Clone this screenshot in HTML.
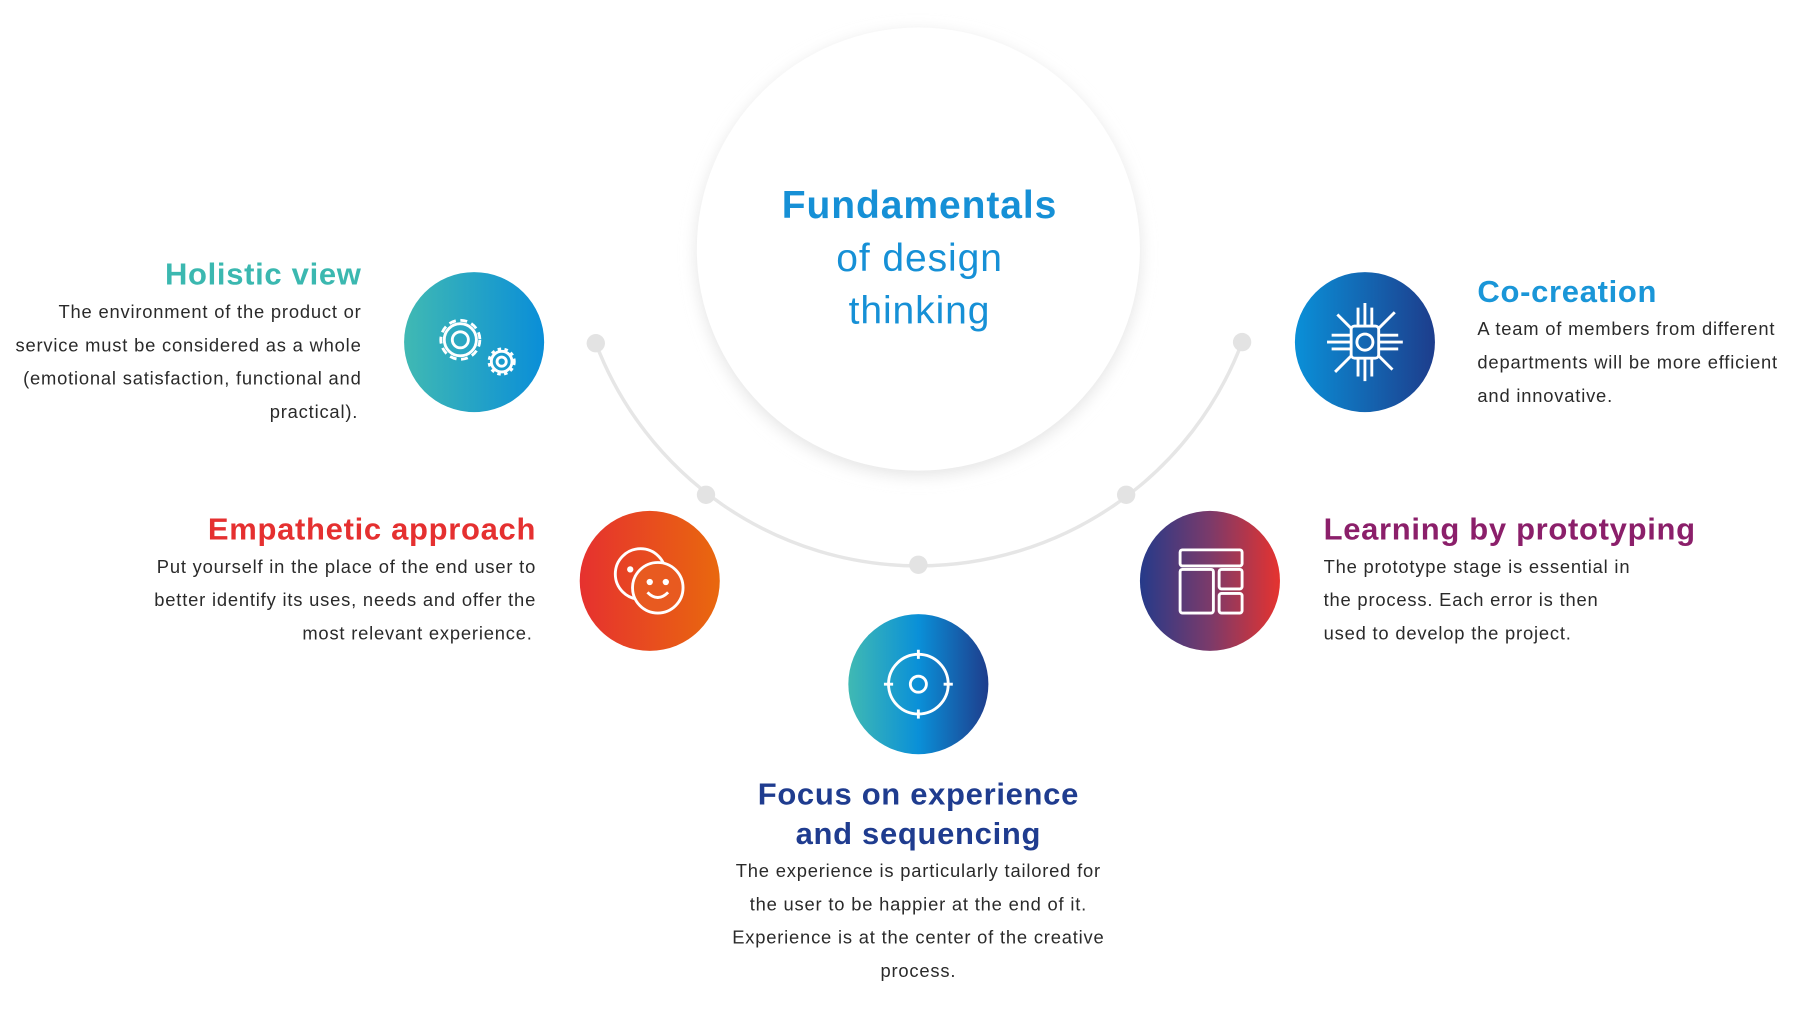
<!DOCTYPE html>
<html><head><meta charset="utf-8"><style>
html,body{margin:0;padding:0;background:#fff;overflow:hidden}
#w{width:1568px;height:880px;transform:scale(1.14796);transform-origin:0 0;position:relative}
svg text{font-family:"Liberation Sans",sans-serif}
.b{font-size:16px;fill:#2a2a2a;letter-spacing:0.7px}
.h{font-size:27px;font-weight:bold;letter-spacing:0.6px}
</style></head><body><div id="w">
<svg width="1568" height="880" viewBox="0 0 1568 880" xmlns="http://www.w3.org/2000/svg">
<defs>
<filter id="sh" x="-20%" y="-20%" width="140%" height="140%"><feGaussianBlur stdDeviation="7"/></filter>
<linearGradient id="g1" x1="0" x2="1"><stop offset="0" stop-color="#40b9b3"/><stop offset="1" stop-color="#0a8ed8"/></linearGradient>
<linearGradient id="g2" x1="0" x2="1"><stop offset="0" stop-color="#0a90d8"/><stop offset="1" stop-color="#1d3d8c"/></linearGradient>
<linearGradient id="g3" x1="0" x2="1"><stop offset="0" stop-color="#e6312f"/><stop offset="1" stop-color="#e9680e"/></linearGradient>
<linearGradient id="g4" x1="0" x2="1"><stop offset="0" stop-color="#253a8a"/><stop offset="0.5" stop-color="#7b3a6a"/><stop offset="1" stop-color="#e6332f"/></linearGradient>
<linearGradient id="g5" x1="0" x2="1"><stop offset="0" stop-color="#40b9b3"/><stop offset="0.5" stop-color="#0a90d8"/><stop offset="1" stop-color="#1e3d8c"/></linearGradient>
</defs>
<circle cx="800" cy="221" r="193" fill="#e4e4e4" filter="url(#sh)"/>
<circle cx="800" cy="217" r="193" fill="#fff"/>
<path d="M519 299 A301 301 0 0 0 1082 298" fill="none" stroke="#e6e6e6" stroke-width="3"/>
<g fill="#e3e3e3"><circle cx="519" cy="299" r="8"/><circle cx="615" cy="431" r="8"/><circle cx="800" cy="492" r="8"/><circle cx="981" cy="431" r="8"/><circle cx="1082" cy="298" r="8"/></g>
<text x="801" y="190" text-anchor="middle" font-size="34" font-weight="bold" fill="#1690d6" letter-spacing="0.8">Fundamentals</text>
<text x="801" y="236" text-anchor="middle" font-size="34" fill="#1690d6" letter-spacing="0.8">of design</text>
<text x="801" y="282" text-anchor="middle" font-size="34" fill="#1690d6" letter-spacing="0.8">thinking</text>

<circle cx="413" cy="298" r="61" fill="url(#g1)"/>
<circle cx="1189" cy="298" r="61" fill="url(#g2)"/>
<circle cx="566" cy="506" r="61" fill="url(#g3)"/>
<circle cx="1054" cy="506" r="61" fill="url(#g4)"/>
<circle cx="800" cy="596" r="61" fill="url(#g5)"/>

<!-- icons -->
<g fill="none" stroke="#fff" stroke-width="2.5">
<circle cx="401" cy="296" r="17" stroke-dasharray="6 4"/><circle cx="401" cy="296" r="14"/><circle cx="401" cy="296" r="7"/>
<circle cx="437" cy="315" r="9"/><circle cx="437" cy="315" r="4"/><circle cx="437" cy="315" r="11" stroke-dasharray="3 3"/>
<rect x="1177" y="284" width="24" height="28" rx="3"/><circle cx="1189" cy="298" r="7"/>
<path d="M1160 292h17M1156 298h21M1160 304h17M1201 292h17M1201 298h21M1201 304h17M1183 284v-16M1189 284v-20M1195 284v-16M1183 312v16M1189 312v20M1195 312v16M1201 286l14-14M1177 310l-14 14M1177 286l-12-12M1201 310l12 12"/>
<circle cx="558" cy="500" r="22"/><circle cx="573" cy="512" r="22" fill="#e85a20"/>
<path d="M564 516 q9 9 18 0"/><circle cx="566" cy="507" r="1.5" fill="#fff"/><circle cx="580" cy="507" r="1.5" fill="#fff"/><circle cx="549" cy="496" r="1.5" fill="#fff"/>
<rect x="1028" y="479" width="54" height="14" rx="2"/><rect x="1028" y="496" width="29" height="38" rx="2"/><rect x="1062" y="496" width="20" height="17" rx="2"/><rect x="1062" y="517" width="20" height="17" rx="2"/>
<circle cx="800" cy="596" r="26"/><circle cx="800" cy="596" r="7"/>
<path d="M800 566v8M800 618v8M770 596h8M822 596h8"/>
</g>

<text class="h" x="315" y="248" text-anchor="end" fill="#3bb8b0">Holistic view</text>
<g class="b" text-anchor="end">
<text class="b" x="315" y="277">The environment of the product or</text>
<text class="b" x="315" y="306">service must be considered as a whole</text>
<text class="b" x="315" y="335">(emotional satisfaction, functional and</text>
<text class="b" x="312" y="364">practical).</text>
</g>
<text class="h" x="1287" y="263" fill="#1a96d8">Co-creation</text>
<text class="b" x="1287" y="292">A team of members from different</text>
<text class="b" x="1287" y="321">departments will be more efficient</text>
<text class="b" x="1287" y="350">and innovative.</text>

<text class="h" x="467" y="470" text-anchor="end" fill="#e53030">Empathetic approach</text>
<g text-anchor="end">
<text class="b" x="467" y="499">Put yourself in the place of the end user to</text>
<text class="b" x="467" y="528">better identify its uses, needs and offer the</text>
<text class="b" x="464" y="557">most relevant experience.</text>
</g>
<text class="h" x="1153" y="470" fill="#8b1f6a">Learning by prototyping</text>
<text class="b" x="1153" y="499">The prototype stage is essential in</text>
<text class="b" x="1153" y="528">the process. Each error is then</text>
<text class="b" x="1153" y="557">used to develop the project.</text>

<g text-anchor="middle">
<text class="h" x="800" y="701" fill="#1f3c8f">Focus on experience</text>
<text class="h" x="800" y="735" fill="#1f3c8f">and sequencing</text>
<text class="b" x="800" y="764">The experience is particularly tailored for</text>
<text class="b" x="800" y="793">the user to be happier at the end of it.</text>
<text class="b" x="800" y="822">Experience is at the center of the creative</text>
<text class="b" x="800" y="851">process.</text>
</g>
</svg>
</div></body></html>
